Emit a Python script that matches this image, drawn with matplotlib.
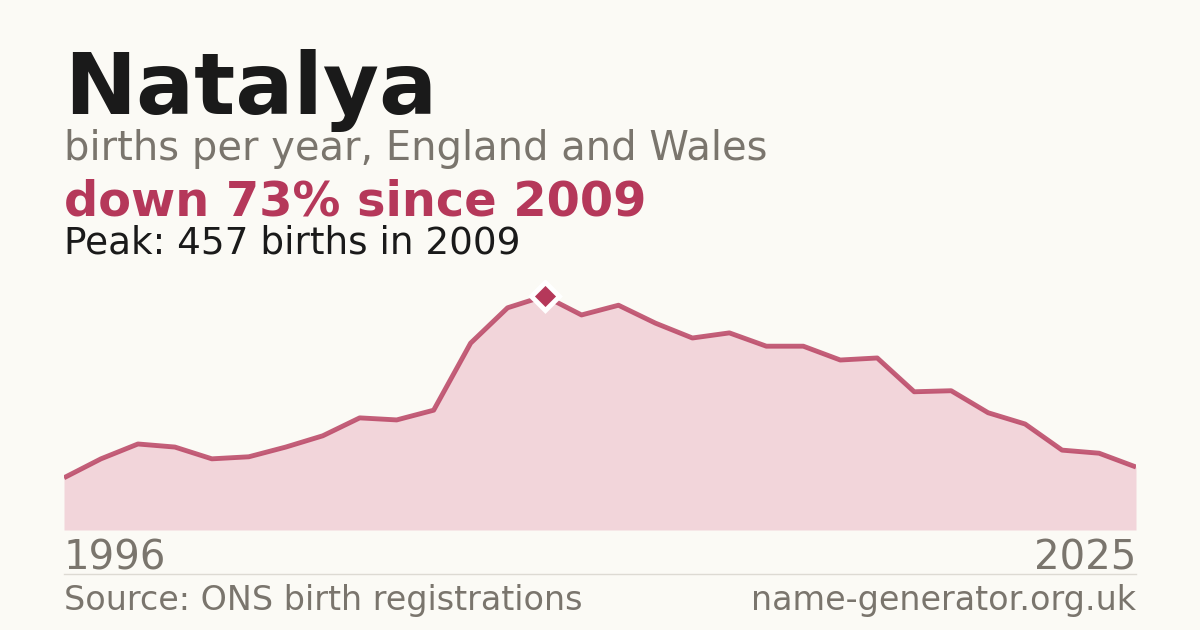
import matplotlib.pyplot as plt
import numpy as np

plt.rcParams['font.family'] = ['DejaVu Sans']

years = list(range(1996, 2026))
births = [102, 139, 168, 162, 139, 143, 162, 184, 219, 215, 234, 365, 434, 457,
          420, 439, 404, 375, 385, 359, 359, 332, 336, 270, 272, 229, 207, 156, 150, 123]

name = "Natalya"
subtitle = "births per year, England and Wales"
change_text = "down 73% since 2009"
peak_text = "Peak: 457 births in 2009"
source_text = "Source: ONS birth registrations"
site_text = "name-generator.org.uk"

bg = "#fbfaf5"
accent = "#b5385a"
fill_col = "#f2d5da"
grey = "#7a756d"
dark = "#1a1a1a"

W, H = 1200, 630
fig = plt.figure(figsize=(12, 6.3), dpi=100, facecolor=bg)


def fy(px):  # pixel from top -> figure fraction
    return 1 - px / H


# plot area: x 64..1136 px, baseline at 530 px, top at 280 px
ax = fig.add_axes([64 / W, 100 / H, 1072 / W, 250 / H])
ax.set_facecolor(bg)
ax.patch.set_alpha(0)
ax.fill_between(years, births, 0, color=fill_col, lw=0)
ax.plot(years, births, color=accent, lw=3.5, alpha=0.8, solid_joinstyle="round", solid_capstyle="butt")
i_peak = int(np.argmax(births))
ax.plot(years[i_peak], births[i_peak], marker="D", ms=14, color=accent, mec="white", mew=3.5)
ax.set_xlim(years[0], years[-1])
ax.set_ylim(0, 250 / 0.512)
ax.axis("off")

fig.text(64 / W, fy(114), name, fontsize=62, fontweight="bold", color=dark, va="baseline")
fig.text(64 / W, fy(160), subtitle, fontsize=28.8, color=grey, va="baseline")
fig.text(64 / W, fy(215), change_text, fontsize=34.5, fontweight="bold", color=accent, va="baseline")
fig.text(64 / W, fy(254), peak_text, fontsize=26.9, color=dark, va="baseline")

fig.text(64 / W, fy(570), str(years[0]), fontsize=29, color=grey, va="baseline")
fig.text(1136 / W, fy(570), str(years[-1]), fontsize=29, color=grey, va="baseline", ha="right")

fig.add_artist(plt.Line2D([64 / W, 1136 / W], [fy(574), fy(574)], color="#dddad3", lw=1))

fig.text(64 / W, fy(610), source_text, fontsize=24, color=grey, va="baseline")
fig.text(1136 / W, fy(610), site_text, fontsize=24, color=grey, va="baseline", ha="right")

fig.savefig("out.png", dpi=100, facecolor=bg)
